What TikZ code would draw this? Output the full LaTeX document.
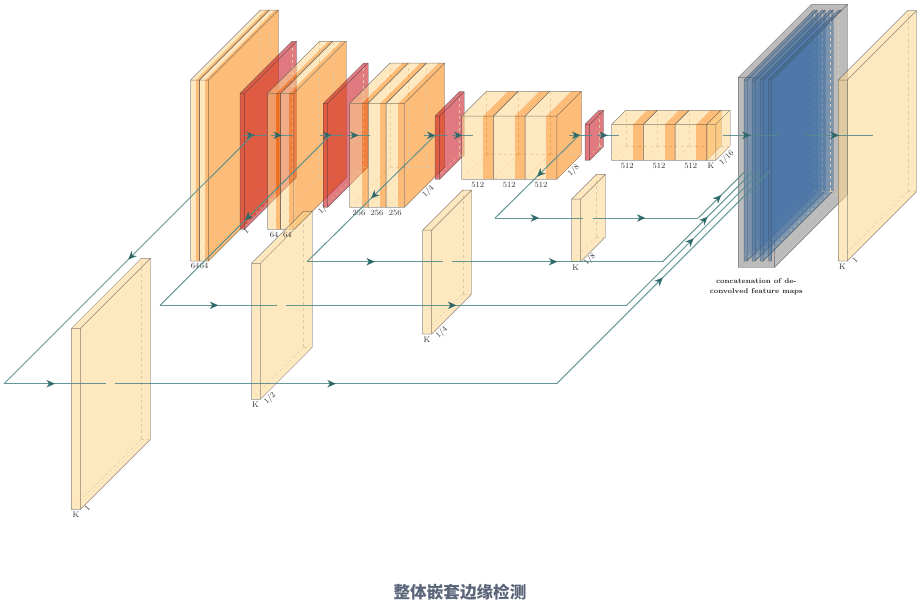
\documentclass[tikz,border=0pt]{standalone}
\usepackage{xcolor}
\usepackage{fontspec}
\usepackage{tikz}
\usetikzlibrary{arrows.meta,decorations.markings}
\newfontfamily\cjkfont{Noto Sans CJK SC}
\definecolor{boxlight}{RGB}{253,213,140}
\definecolor{boxband}{RGB}{252,133,10}
\definecolor{boxpool}{RGB}{199,13,24}
\definecolor{boxgray}{RGB}{133,133,133}
\definecolor{boxblue}{RGB}{68,115,166}
\definecolor{boxdash}{RGB}{222,200,165}
\definecolor{skipline}{RGB}{84,140,140}
\definecolor{skiptip}{RGB}{45,105,105}
\definecolor{titlegray}{RGB}{92,102,122}
\tikzset{
  boxfill/.style  = {fill opacity=.55},
  boxline/.style  = {black!70, draw opacity=.65, line width=.5pt, line join=round},
  boxrim/.style   = {black!50, draw opacity=.45, line width=.5pt},
  boxhid/.style   = {dashed, boxdash, line width=.35pt},
  skipedge/.style = {draw=skipline, draw opacity=.9, line width=1pt},
  midtip/.style   = {postaction={decorate}, decoration={markings,
                     mark=at position .5 with {\arrow{Stealth[length=8.5pt,width=7.5pt,inset=2.5pt,color=skiptip]}}}},
  lbl/.style      = {font=\fontsize{8}{9}\selectfont, inner sep=0pt, text=black!80},
  capt/.style     = {font=\fontsize{7}{9.6}\selectfont\bfseries, inner sep=0pt,
                     align=center, text=black!85},
  titlelbl/.style = {font=\fontsize{16.6}{18}\cjkfont\bfseries, inner sep=0pt, text=titlegray}
}
% x, top, bottom, front width, band width, depth, front colour, band colour
\newcommand{\layerbox}[8]{
  \draw[boxhid] (#1+#6,#3-#6) -- (#1,#3);
  \draw[boxhid] (#1+#6,#3-#6) -- (#1+#4+#5+#6,#3-#6);
  \draw[boxhid] (#1+#6,#3-#6) -- (#1+#6,#2-#6);
  \fill[boxfill,fill=#8] (#1+#4,#2) -- ++(#6,-#6) -- ++(#5,0) -- ++(-#6,#6) -- cycle;
  \fill[boxfill,fill=#7] (#1,#2) -- ++(#6,-#6) -- ++(#4,0) -- ++(-#6,#6) -- cycle;
  \fill[boxfill,fill=#7] (#1,#2) rectangle (#1+#4,#3);
  \fill[boxfill,fill=#8] (#1+#4,#2) rectangle (#1+#4+#5,#3);
  \draw[boxline] (#1,#2) rectangle (#1+#4+#5,#3)
    (#1,#2) -- ++(#6,-#6) -- ++(#4+#5,0) -- (#1+#4+#5,#2);
}
% front right x, top, bottom, depth, colour
\newcommand{\layerside}[5]{
  \fill[boxfill,fill=#5] (#1,#2) -- ++(#4,-#4) -- (#1+#4,#3-#4) -- (#1,#3) -- cycle;
  \draw[boxrim] (#1+#4,#2-#4) -- (#1+#4,#3-#4);
  \draw[boxline] (#1+#4,#3-#4) -- (#1,#3);
}

\begin{document}
\begin{tikzpicture}[x=1pt, y=-1pt]
  \useasboundingbox (0,0) rectangle (923,606);
  % Block 1
  \layerside{208.5}{80}{261}{70}{boxband}
  \layerbox{190.5}{80}{261}{5.3}{3.7}{70}{boxlight}{boxband}
  \layerbox{199.5}{80}{261}{5.3}{3.7}{70}{boxlight}{boxband}
  \layerside{244.5}{93.3}{229.3}{52}{boxpool}
  \layerbox{240}{93.3}{229.3}{4.5}{0}{52}{boxpool}{boxpool}
  % Block 2
  \layerside{294.4}{93.3}{229.3}{52}{boxband}
  \layerbox{267.5}{93.3}{229.3}{8.7}{4.5}{52}{boxlight}{boxband}
  \layerbox{280.7}{93.3}{229.3}{8.7}{4.5}{52}{boxlight}{boxband}
  \layerside{327.7}{103.3}{207.3}{40.3}{boxpool}
  \layerbox{323.3}{103.3}{207.3}{4.4}{0}{40.3}{boxpool}{boxpool}
  % Block 3
  \layerside{404.4}{103.3}{207.3}{40.3}{boxband}
  \layerbox{349.7}{103.3}{207.3}{12.3}{6.3}{40.3}{boxlight}{boxband}
  \layerbox{368}{103.3}{207.3}{12}{6.2}{40.3}{boxlight}{boxband}
  \layerbox{386.2}{103.3}{207.3}{12}{6.2}{40.3}{boxlight}{boxband}
  \layerside{439.7}{116}{179.3}{24.5}{boxpool}
  \layerbox{435}{116}{179.3}{4.7}{0}{24.5}{boxpool}{boxpool}
  % Block 4
  \layerside{556.8}{116}{179.3}{24.7}{boxband}
  \layerbox{461.7}{116}{179.3}{21.3}{10.4}{24.7}{boxlight}{boxband}
  \layerbox{493.4}{116}{179.3}{21.3}{10.4}{24.7}{boxlight}{boxband}
  \layerbox{525.1}{116}{179.3}{21.3}{10.4}{24.7}{boxlight}{boxband}
  \layerside{589.7}{124.3}{160.3}{14}{boxpool}
  \layerbox{585}{124.3}{160.3}{4.7}{0}{14}{boxpool}{boxpool}
  % Block 5
  \layerside{706.8}{124.3}{160.3}{14}{boxband}
  \layerbox{611.7}{124.3}{160.3}{21.3}{10.4}{14}{boxlight}{boxband}
  \layerbox{643.4}{124.3}{160.3}{21.3}{10.4}{14}{boxlight}{boxband}
  \layerbox{675.1}{124.3}{160.3}{21.3}{10.4}{14}{boxlight}{boxband}
  \layerside{715.8}{124.3}{160.3}{14}{boxlight}
  \layerbox{706.8}{124.3}{160.3}{9}{0}{14}{boxlight}{boxlight}
  % Side outputs
  \layerside{80.5}{328.3}{509.3}{70}{boxlight}
  \layerbox{71.3}{328.3}{509.3}{9.2}{0}{70}{boxlight}{boxlight}
  \layerside{260.3}{263.3}{399.3}{52}{boxlight}
  \layerbox{251.5}{263.3}{399.3}{8.8}{0}{52}{boxlight}{boxlight}
  \layerside{431.7}{230}{334}{40}{boxlight}
  \layerbox{422.7}{230}{334}{9}{0}{40}{boxlight}{boxlight}
  \layerside{580.7}{199}{261.7}{24.7}{boxlight}
  \layerbox{571.7}{199}{261.7}{9}{0}{24.7}{boxlight}{boxlight}
  % Concatenation
  \layerside{774.7}{77.3}{267.3}{73}{boxgray}
  \layerbox{738.3}{77.3}{267.3}{36.4}{0}{73}{boxgray}{boxgray}
  \layerside{747.3}{80}{261}{70}{boxblue}
  \layerbox{744}{80}{261}{3.3}{0}{70}{boxblue}{boxblue}
  \layerside{755.3}{80}{261}{70}{boxblue}
  \layerbox{752}{80}{261}{3.3}{0}{70}{boxblue}{boxblue}
  \layerside{763.3}{80}{261}{70}{boxblue}
  \layerbox{760}{80}{261}{3.3}{0}{70}{boxblue}{boxblue}
  \layerbox{768.5}{80}{261}{3}{0}{70}{boxblue}{boxblue}
  % Final output
  \layerside{847.3}{80}{261}{69.4}{boxlight}
  \layerbox{838.3}{80}{261}{9}{0}{69.4}{boxlight}{boxlight}
  % Labels
  \node[lbl] (l64a) at (195,266) {64};
  \node[lbl] (l64b) at (204,266) {64};
  \node[lbl,rotate=45] (lone) at (246,231) {1};
  \node[lbl] (l64c) at (274,235) {64};
  \node[lbl] (l64d) at (287.3,235) {64};
  \node[lbl,rotate=45] (lhalf) at (322.7,210) {1/};
  \node[lbl] (l256a) at (359,212.7) {256};
  \node[lbl] (l256b) at (377,212.7) {256};
  \node[lbl] (l256c) at (395.3,212.7) {256};
  \node[lbl,rotate=45] (lquart) at (428.3,191.7) {1/4};
  \node[lbl] (l512a) at (477.7,185) {512};
  \node[lbl] (l512b) at (509.3,185) {512};
  \node[lbl] (l512c) at (541,185) {512};
  \node[lbl,rotate=45] (leighth) at (573.7,170.7) {1/8};
  \node[lbl] (l512d) at (627.3,165.7) {512};
  \node[lbl] (l512e) at (659,165.7) {512};
  \node[lbl] (l512f) at (690.7,165.7) {512};
  \node[lbl] (lkfive) at (711,165.7) {K};
  \node[lbl,rotate=45] (lsixt) at (726.7,158.3) {1/16};
  \node[lbl] (lka) at (76,515) {K};
  \node[lbl,rotate=45] (lsa) at (87.3,508) {1};
  \node[lbl] (lkb) at (255.3,405) {K};
  \node[lbl,rotate=45] (lsb) at (270,398.3) {1/2};
  \node[lbl] (lkc) at (427,339.3) {K};
  \node[lbl,rotate=45] (lsc) at (441.7,332.3) {1/4};
  \node[lbl] (lkd) at (575.7,267.7) {K};
  \node[lbl,rotate=45] (lsd) at (590,260) {1/8};
  \node[lbl] (lke) at (842.3,266.7) {K};
  \node[lbl,rotate=45] (lse) at (855,260) {1};
  \node[capt] (concat) at (756.3,287) {concatenation of de-\\convolved feature maps};
  \node[titlelbl] (title) at (460,592) {整体嵌套边缘检测};
  % Main line points
  \coordinate (ma) at (243.3,135.3); \coordinate (mb) at (266.7,135.3);
  \coordinate (mc) at (270.7,135.3); \coordinate (md) at (293.3,135.3);
  \coordinate (me) at (320,135.3);   \coordinate (mf) at (343.3,135.3);
  \coordinate (mg) at (347.3,135.3); \coordinate (mh) at (370,135.3);
  \coordinate (mi) at (424.3,135.3); \coordinate (mj) at (446.7,135.3);
  \coordinate (mk) at (451.7,135.3); \coordinate (ml) at (473.3,135.3);
  \coordinate (mm) at (569.3,135.3); \coordinate (mn) at (591.7,135.3);
  \coordinate (mo) at (596.7,135.3); \coordinate (mp) at (619,135.3);
  \coordinate (mq) at (722.7,135.3); \coordinate (mr) at (778.7,135.3);
  \coordinate (ms) at (805.3,135.3); \coordinate (mt) at (872.7,135.3);
  % Skip line points
  \coordinate (sa0) at (252.5,135.3); \coordinate (sa1) at (4,383.7);
  \coordinate (sa2) at (106,383.7);   \coordinate (sa3) at (115,383.7);
  \coordinate (sa4) at (556.7,383.7); \coordinate (sa5) at (769,171.4);
  \coordinate (sb0) at (330,135.3);   \coordinate (sb1) at (160,305.3);
  \coordinate (sb2) at (276.7,305.3); \coordinate (sb3) at (286,305.3);
  \coordinate (sb4) at (626.7,305.3); \coordinate (sb5) at (760.7,171.3);
  \coordinate (sc0) at (435,135.3);   \coordinate (sc1) at (307,261.7);
  \coordinate (sc2) at (442.7,261.7); \coordinate (sc3) at (452,261.7);
  \coordinate (sc4) at (662.7,261.7); \coordinate (sc5) at (752.7,171.7);
  \coordinate (sd0) at (579,135.3);   \coordinate (sd1) at (495,218);
  \coordinate (sd2) at (583.3,218);   \coordinate (sd3) at (592.7,218);
  \coordinate (sd4) at (698.3,218);   \coordinate (sd5) at (744.3,172);
  % Main line
  \draw[skipedge,midtip] (ma)--(mb); \draw[skipedge,midtip] (mc)--(md);
  \draw[skipedge,midtip] (me)--(mf); \draw[skipedge,midtip] (mg)--(mh);
  \draw[skipedge,midtip] (mi)--(mj); \draw[skipedge,midtip] (mk)--(ml);
  \draw[skipedge,midtip] (mm)--(mn); \draw[skipedge,midtip] (mo)--(mp);
  \draw[skipedge,midtip] (mq)--(mr); \draw[skipedge,midtip] (ms)--(mt);
  % Skip lines
  \draw[skipedge,midtip] (sa0)--(sa1); \draw[skipedge,midtip] (sa1)--(sa2);
  \draw[skipedge,midtip] (sa3)--(sa4); \draw[skipedge,midtip] (sa4)--(sa5);
  \draw[skipedge,midtip] (sb0)--(sb1); \draw[skipedge,midtip] (sb1)--(sb2);
  \draw[skipedge,midtip] (sb3)--(sb4); \draw[skipedge,midtip] (sb4)--(sb5);
  \draw[skipedge,midtip] (sc0)--(sc1); \draw[skipedge,midtip] (sc1)--(sc2);
  \draw[skipedge,midtip] (sc3)--(sc4); \draw[skipedge,midtip] (sc4)--(sc5);
  \draw[skipedge,midtip] (sd0)--(sd1); \draw[skipedge,midtip] (sd1)--(sd2);
  \draw[skipedge,midtip] (sd3)--(sd4); \draw[skipedge,midtip] (sd4)--(sd5);
\end{tikzpicture}
\end{document}
